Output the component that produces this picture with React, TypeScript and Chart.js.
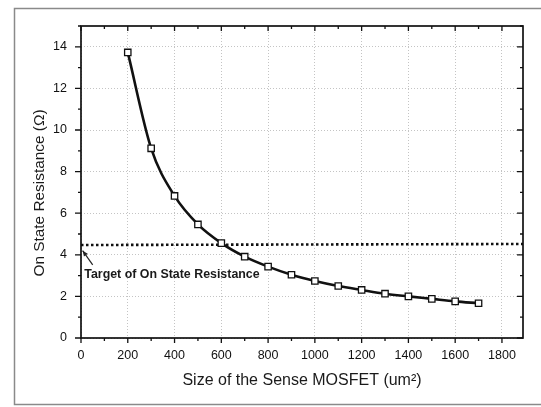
import React, { useEffect, useRef } from 'react';
import { Chart, registerables } from 'chart.js';

Chart.register(...registerables);

const sizes = [200, 300, 400, 500, 600, 700, 800, 900, 1000, 1100, 1200, 1300, 1400, 1500, 1600, 1700];
const resistance = [13.73, 9.12, 6.83, 5.46, 4.56, 3.91, 3.43, 3.04, 2.74, 2.5, 2.31, 2.13, 2.0, 1.88, 1.76, 1.67];
const targetX = [0, 1890];
const targetY = [4.47, 4.52];
const xRange = [0, 1890];
const yRange = [0, 15];
const xStep = 200;
const yStep = 2;
const xTitle = 'Size of the Sense MOSFET (um\u00B2)';
const yTitle = 'On State Resistance (\u03A9)';
const annotationText = 'Target of On State Resistance';
const annotationTextPos = [14, 3.04];
const arrowTail = [50, 3.52];
const arrowTip = [7, 4.2];

const FONT = "'Liberation Sans', Arial, sans-serif";

const decorPlugin = {
  id: 'decor',
  afterDraw(chart: any) {
    const { ctx, chartArea } = chart;
    const xs = chart.scales.x;
    const ys = chart.scales.y;
    const { left, right, top, bottom } = chartArea;
    ctx.save();
    // outer figure frame
    ctx.strokeStyle = '#8a8a8a';
    ctx.lineWidth = 1.5;
    ctx.strokeRect(14.5, 8.5, 700, 396);
    // plot frame
    ctx.strokeStyle = '#111';
    ctx.lineWidth = 1.7;
    ctx.strokeRect(left, top, right - left, bottom - top);
    // ticks
    ctx.lineWidth = 1.3;
    ctx.beginPath();
    for (let v = xRange[0]; v <= xRange[1]; v += xStep / 2) {
      const px = xs.getPixelForValue(v);
      const major = v % xStep === 0;
      const len = major ? 5 : 3;
      ctx.moveTo(px, bottom);
      ctx.lineTo(px, bottom + len);
      ctx.moveTo(px, top);
      ctx.lineTo(px, top + len);
    }
    for (let v = yRange[0]; v <= yRange[1]; v += yStep / 2) {
      const py = ys.getPixelForValue(v);
      const major = v % yStep === 0;
      const len = major ? 6 : 3;
      ctx.moveTo(left, py);
      ctx.lineTo(left - len, py);
      ctx.moveTo(right, py);
      ctx.lineTo(right - len, py);
    }
    ctx.stroke();
    // y axis title
    ctx.save();
    ctx.translate(40, (top + bottom) / 2 + 11);
    ctx.rotate(-Math.PI / 2);
    ctx.font = `15.4px ${FONT}`;
    ctx.fillStyle = '#1a1a1a';
    ctx.textAlign = 'center';
    ctx.textBaseline = 'middle';
    ctx.fillText(yTitle, 0, 0);
    ctx.restore();
    // annotation arrow
    const tx = xs.getPixelForValue(arrowTail[0]);
    const ty = ys.getPixelForValue(arrowTail[1]);
    const hx = xs.getPixelForValue(arrowTip[0]);
    const hy = ys.getPixelForValue(arrowTip[1]);
    ctx.strokeStyle = '#222';
    ctx.lineWidth = 1.2;
    ctx.beginPath();
    ctx.moveTo(tx, ty);
    ctx.lineTo(hx, hy);
    ctx.stroke();
    const ang = Math.atan2(hy - ty, hx - tx);
    ctx.fillStyle = '#222';
    ctx.beginPath();
    ctx.moveTo(hx, hy);
    ctx.lineTo(hx - 6 * Math.cos(ang - 0.4), hy - 6 * Math.sin(ang - 0.4));
    ctx.lineTo(hx - 6 * Math.cos(ang + 0.4), hy - 6 * Math.sin(ang + 0.4));
    ctx.closePath();
    ctx.fill();
    // annotation text
    ctx.font = `bold 12.4px ${FONT}`;
    ctx.fillStyle = '#1a1a1a';
    ctx.textBaseline = 'middle';
    ctx.textAlign = 'left';
    ctx.fillText(annotationText, xs.getPixelForValue(annotationTextPos[0]), ys.getPixelForValue(annotationTextPos[1]));
    ctx.restore();
  },
};

export default function App() {
  const ref = useRef<HTMLCanvasElement>(null);
  useEffect(() => {
    document.body.style.margin = '0';
    document.body.style.background = '#fff';
    const chart = new Chart(ref.current as HTMLCanvasElement, {
      type: 'line',
      data: {
        datasets: [
          {
            data: sizes.map((s, i) => ({ x: s, y: resistance[i] })),
            borderColor: '#111',
            borderWidth: 2.6,
            cubicInterpolationMode: 'monotone',
            pointStyle: 'rect',
            pointRadius: 4.5,
            pointBackgroundColor: '#fff',
            pointBorderColor: '#111',
            pointBorderWidth: 1.3,
          },
          {
            data: targetX.map((x, i) => ({ x, y: targetY[i] })),
            borderColor: '#111',
            borderWidth: 2.6,
            borderDash: [2.5, 2.5],
            pointRadius: 0,
          },
        ],
      },
      options: {
        animation: false,
        responsive: true,
        maintainAspectRatio: false,
        layout: { padding: { left: 25, top: 26, right: 18, bottom: 17 } },
        plugins: { legend: { display: false }, tooltip: { enabled: false } },
        scales: {
          x: {
            type: 'linear',
            min: xRange[0],
            max: xRange[1],
            afterFit: (s: any) => { s.height = 52; },
            ticks: {
              stepSize: xStep,
              includeBounds: false,
              padding: 10,
              color: '#111',
              font: { family: FONT, size: 12.5 },
              callback: (v: any) => String(v),
            },
            grid: { color: '#c4c4c4', lineWidth: 1, drawTicks: false },
            border: { display: false, dash: [1, 2] },
            title: {
              display: true,
              text: xTitle,
              color: '#1a1a1a',
              font: { family: FONT, size: 16 },
              padding: { top: 0, bottom: 0 },
            },
          },
          y: {
            type: 'linear',
            min: yRange[0],
            max: yRange[1],
            afterFit: (s: any) => { s.width = 56; },
            ticks: {
              stepSize: yStep,
              includeBounds: false,
              padding: 14,
              color: '#111',
              font: { family: FONT, size: 12.5 },
              callback: (v: any) => String(v),
            },
            grid: { color: '#c4c4c4', lineWidth: 1, drawTicks: false },
            border: { display: false, dash: [1, 2] },
            title: { display: false, text: yTitle },
          },
        },
      },
      plugins: [decorPlugin],
    } as any);
    return () => chart.destroy();
  }, []);
  return (
    <div style={{ position: 'relative', width: 541, height: 407 }}>
      <canvas ref={ref} />
    </div>
  );
}
